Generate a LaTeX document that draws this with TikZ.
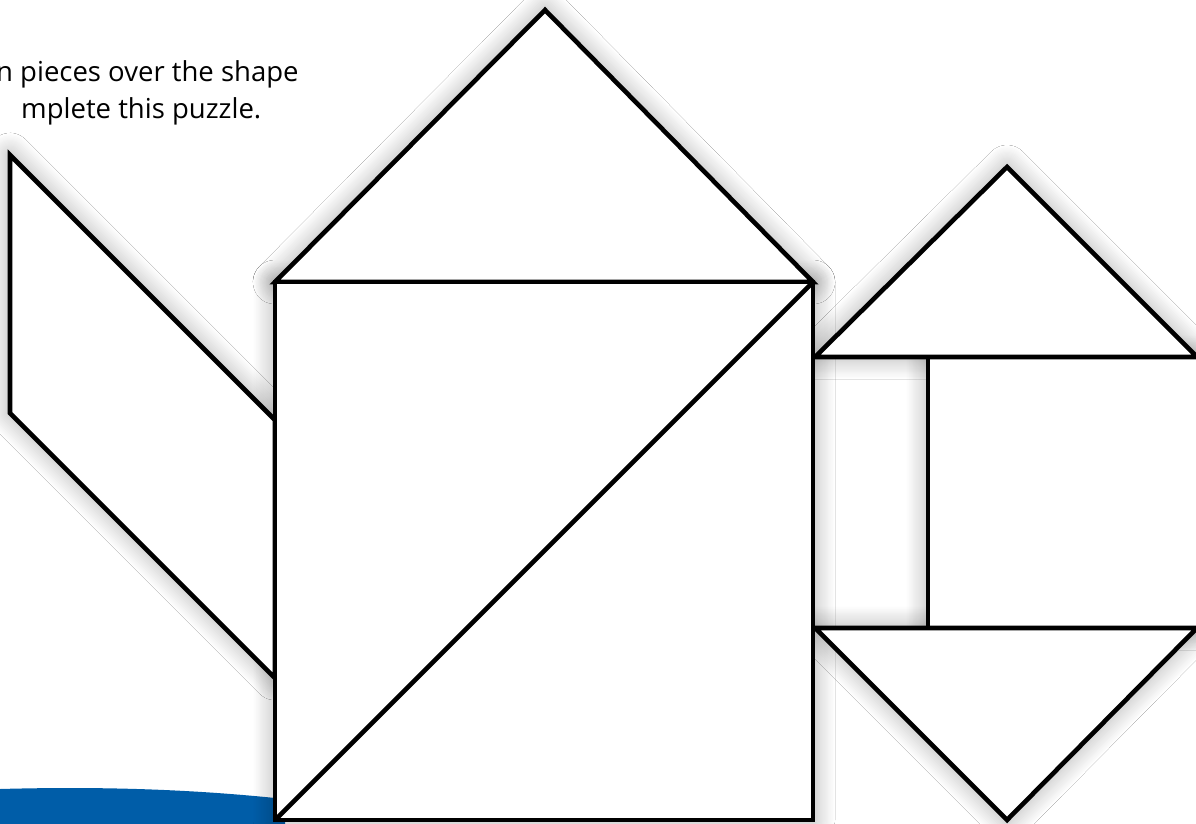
\documentclass[tikz,border=0pt]{standalone}
\usepackage{fontspec}
\setmainfont{Open Sans}
\usetikzlibrary{shadows.blur}
\definecolor{bandblue}{HTML}{005DA8}
\begin{document}
\begin{tikzpicture}[x=1pt,y=-1pt,
  shade/.style={blur shadow={shadow xshift=0pt,shadow yshift=0pt,shadow blur radius=22pt,shadow blur steps=20,shadow opacity=35}},
  piece/.style={draw=black,fill=white,line width=4.6pt,line join=miter},
  caption/.style={anchor=base west,inner sep=0pt,font=\fontsize{27.5}{32}\selectfont}]
\useasboundingbox (0,0) rectangle (1196,824);
\clip (0,0) rectangle (1196,824);
\fill[white] (0,0) rectangle (1196,824);
% blue band
\fill[bandblue] (0,789) .. controls (110,786) and (200,790) .. (285,799) -- (285,830) -- (0,830) -- cycle;
% text
\node[caption] (line1) at (-4,82) {n pieces over the shape};
\node[caption] (line2) at (21,118) {mplete this puzzle.};
% shadows first
\path[shade] (10,155) -- (275,420) -- (275,678) -- (10,413) -- cycle;
\path[shade] (928,357) rectangle (1210,628);
\path[shade] (815,357) -- (1007,167) -- (1197,357) -- cycle;
\path[shade] (815,628) -- (1197,628) -- (1007,820) -- cycle;
\path[shade] (275,282) -- (545,10) -- (813,282) -- cycle;
\path[shade] (275,282) rectangle (813,820);
% parallelogram
\path[piece] (10,155) -- (275,420) -- (275,678) -- (10,413) -- cycle;
% small pieces on the right
\path[piece] (928,357) rectangle (1210,628);
\path[piece] (815,357) -- (1007,167) -- (1197,357) -- cycle;
\path[piece] (815,628) -- (1197,628) -- (1007,820) -- cycle;
% big triangle on top
\path[piece] (275,282) -- (545,10) -- (813,282) -- cycle;
% big square split by its diagonal
\path[piece] (275,282) rectangle (813,820);
\draw[line width=4.6pt] (813,282) -- (275,820);
\end{tikzpicture}
\end{document}
